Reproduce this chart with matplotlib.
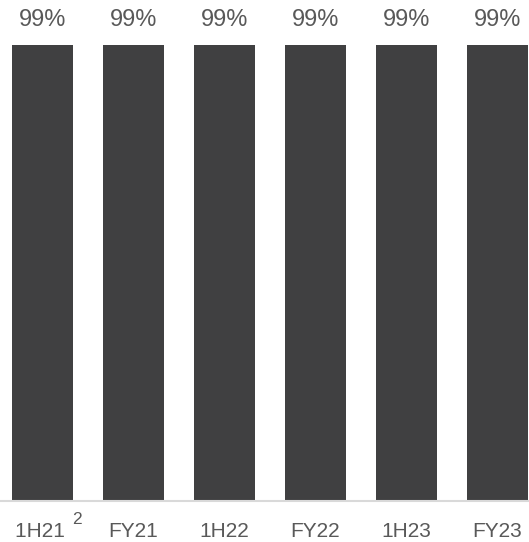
import matplotlib
matplotlib.use("Agg")
import matplotlib.pyplot as plt

periods = ["1H21 ", "FY21", "1H22", "FY22", "1H23", "FY23"]
footnotes = ["2", "", "", "", "", ""]
values = [99, 99, 99, 99, 99, 99]
value_labels = ["99%", "99%", "99%", "99%", "99%", "99%"]

plt.rcParams['font.family'] = ['Liberation Sans', 'DejaVu Sans']

fig = plt.figure(figsize=(5.29, 5.42), dpi=100)
ax = fig.add_axes([0, 41 / 542, 1, 501 / 542])

x = list(range(len(periods)))
ax.bar(x, values, width=0.67, color='#404041')

for xi, v, lab in zip(x, values, value_labels):
    ax.text(xi, v + 5.4, lab, ha='center', va='center', fontsize=17, color='#595959')

ax.set_xlim(-0.467, 5.346)
ax.set_ylim(0, 108.8)
ax.set_xticks(x)
ax.set_xticklabels(periods, fontsize=15, color='#595959')
ax.tick_params(axis='x', length=0, pad=15)
ax.set_yticks([])
for side in ['top', 'left', 'right']:
    ax.spines[side].set_visible(False)
ax.spines['bottom'].set_color('#d9d9d9')
ax.spines['bottom'].set_linewidth(1.5)

# superscript footnote marks next to the tick labels
for xi, fn in zip(x, footnotes):
    if fn:
        ax.annotate(fn, xy=(xi, 0), xycoords=('data', 'axes fraction'),
                    xytext=(24.5, -13.6), textcoords='offset points',
                    ha='center', va='center', fontsize=12.5, color='#595959',
                    annotation_clip=False)

fig.savefig("out.png", dpi=100)
